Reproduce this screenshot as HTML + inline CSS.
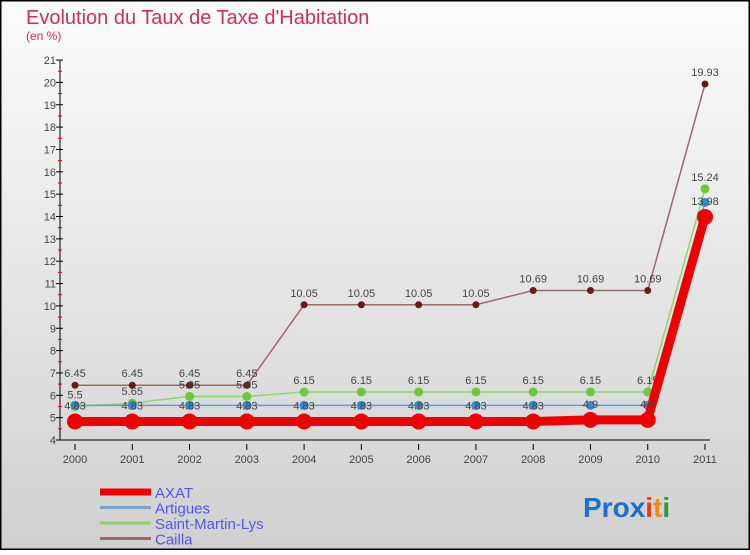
<!DOCTYPE html>
<html><head><meta charset="utf-8"><style>
body{margin:0;width:750px;height:550px;overflow:hidden;font-family:"Liberation Sans",sans-serif}
</style></head><body>
<svg id="c" width="750" height="550" xmlns="http://www.w3.org/2000/svg">
<defs><linearGradient id="bg" x1="0" y1="0" x2="0" y2="1"><stop offset="0" stop-color="#fbfbfb"/><stop offset="1" stop-color="#d0d0d0"/></linearGradient></defs>
<rect x="0.5" y="0.5" width="749" height="549" fill="url(#bg)" stroke="#000" stroke-width="2"/>
<text x="26" y="24" font-size="20" fill="#c8305f">Evolution du Taux de Taxe d'Habitation</text>
<text x="26" y="40" font-size="12" fill="#c8305f">(en %)</text>
<g id="axes"></g><g id="series"></g><g id="legend"></g>
<text x="583" y="517" font-size="28" font-weight="bold"><tspan fill="#1a6fcf">Pro</tspan><tspan fill="#1a6fcf">x</tspan><tspan fill="#e23a1a">i</tspan><tspan fill="#f08a10">t</tspan><tspan fill="#2a9a3a">i</tspan></text>
</svg>
<script>
const years=["2000","2001","2002","2003","2004","2005","2006","2007","2008","2009","2010","2011"];
const yTicks=[4,5,6,7,8,9,10,11,12,13,14,15,16,17,18,19,20,21];
const axat=[4.83,4.83,4.83,4.83,4.83,4.83,4.83,4.83,4.83,4.9,4.9,13.98];
const artigues=[5.55,5.55,5.55,5.55,5.55,5.55,5.55,5.55,5.55,5.55,5.55,14.63];
const stMartin=[5.5,5.65,5.95,5.95,6.15,6.15,6.15,6.15,6.15,6.15,6.15,15.24];
const cailla=[6.45,6.45,6.45,6.45,10.05,10.05,10.05,10.05,10.69,10.69,10.69,19.93];
const NS="http://www.w3.org/2000/svg";
const xs=i=>75+i*(630/11);
const ys=v=>440-(v-4)*22.35;
function mk(p,t,a){const e=document.createElementNS(NS,t);for(const k in a)e.setAttribute(k,a[k]);p.appendChild(e);return e;}
const ax=document.getElementById('axes');
let e=mk(ax,'line',{x1:60,y1:ys(21),x2:60,y2:440,stroke:'#000'});


e=mk(ax,'line',{x1:60,y1:440,x2:710,y2:440,stroke:'#000'});


yTicks.forEach(v=>{
 mk(ax,'line',{x1:56,y1:ys(v),x2:63,y2:ys(v),stroke:'#000'});
 if(v<21)mk(ax,'line',{x1:58,y1:ys(v+0.5),x2:62,y2:ys(v+0.5),stroke:'#d00'});
 const t=mk(ax,'text',{x:56,y:ys(v)+4,'font-size':11,fill:'#444','text-anchor':'end'});t.textContent=v;
 
 
});
years.forEach((y,i)=>{
 mk(ax,'line',{x1:xs(i),y1:444,x2:xs(i),y2:450,stroke:'#000'});
 const t=mk(ax,'text',{x:xs(i),y:463,'font-size':11,fill:'#444','text-anchor':'middle'});t.textContent=y;
 
 
});
const sg=document.getElementById('series');
const defs=[
 {n:'cailla',d:cailla,c:'#9a6a6a',p:'#6a1a1a',w:1.5,r:3.5,lab:true},
 {n:'saint-martin-lys',d:stMartin,c:'#8ad86a',p:'#6ac83a',w:1.5,r:4.5,lab:true},
 {n:'artigues',d:artigues,c:'#6a9ac8',p:'#3a8ad0',w:1.5,r:4.5,lab:false},
 {n:'axat',d:axat,c:'#ee0000',p:'#ee0000',w:9,r:8,lab:true}];
defs.forEach(s=>{
 const pts=s.d.map((v,i)=>xs(i)+','+ys(v)).join(' ');
 const l=mk(sg,'polyline',{points:pts,fill:'none',stroke:s.c,'stroke-width':s.w});
 
 
 s.d.forEach((v,i)=>{
  const c=mk(sg,'circle',{cx:xs(i),cy:ys(v),r:s.r,fill:s.p});
  
  
  if(s.lab){const t=mk(sg,'text',{x:xs(i),y:ys(v)-(s.n==='axat'?12:8),'font-size':11,fill:'#444','text-anchor':'middle'});t.textContent=v.toFixed(2).replace(/0$/,'');
  
  }
 });
});
const lg=document.getElementById('legend');
const lgs=[['AXAT','#ee0000',7],['Artigues','#7aa4c4',3],['Saint-Martin-Lys','#90d070',3],['Cailla','#9a6a6a',3]];
lgs.forEach((g,i)=>{
 const y=492+i*15.5;
 const l=mk(lg,'line',{x1:100,y1:y,x2:151,y2:y,stroke:g[1],'stroke-width':g[2]});
 
 
 const t=mk(lg,'text',{x:155,y:y+6,'font-size':15,fill:'#5555ee'});t.textContent=g[0];
 
 
});
</script>
</body></html>
